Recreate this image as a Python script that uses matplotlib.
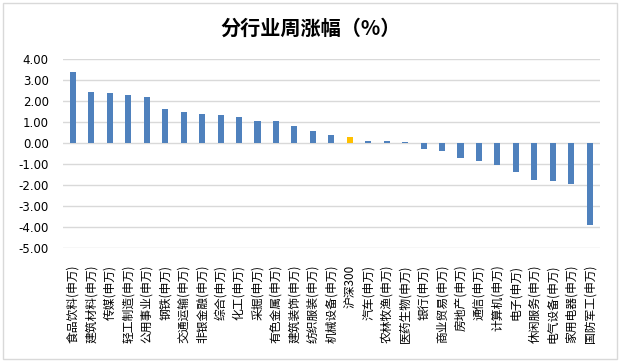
import matplotlib
matplotlib.use('Agg')
import matplotlib.pyplot as plt
from matplotlib.patches import Rectangle

plt.rcParams['font.family'] = ['Noto Sans CJK SC', 'DejaVu Sans']

industries = ['食品饮料(申万)', '建筑材料(申万)', '传媒(申万)', '轻工制造(申万)', '公用事业(申万)',
              '钢铁(申万)', '交通运输(申万)', '非银金融(申万)', '综合(申万)', '化工(申万)',
              '采掘(申万)', '有色金属(申万)', '建筑装饰(申万)', '纺织服装(申万)', '机械设备(申万)',
              '沪深300', '汽车(申万)', '农林牧渔(申万)', '医药生物(申万)', '银行(申万)',
              '商业贸易(申万)', '房地产(申万)', '通信(申万)', '计算机(申万)', '电子(申万)',
              '休闲服务(申万)', '电气设备(申万)', '家用电器(申万)', '国防军工(申万)']
weekly_change = [3.40, 2.44, 2.40, 2.30, 2.21, 1.63, 1.49, 1.40, 1.35, 1.25,
                 1.06, 1.06, 0.83, 0.58, 0.40, 0.30, 0.11, 0.11, 0.06, -0.27,
                 -0.37, -0.70, -0.84, -1.03, -1.37, -1.75, -1.79, -1.94, -3.89]
highlight = '沪深300'

blue = '#4F81BD'
yellow = '#FFC000'
colors = [yellow if name == highlight else blue for name in industries]

fig = plt.figure(figsize=(6.21, 3.62), dpi=100)
fig.patches.append(Rectangle((0.005, 0.008), 0.988, 0.985, transform=fig.transFigure,
                             fill=False, edgecolor='#D9D9D9', linewidth=1.0))

ax = fig.add_axes([0.101, 0.315, 0.865, 0.522])
x = list(range(len(industries)))
ax.bar(x, weekly_change, width=0.33, color=colors, zorder=3)

ax.set_ylim(-5, 4)
ax.set_yticks(range(-5, 5))
ax.set_yticklabels(['%.2f' % v for v in range(-5, 5)], fontsize=8.5, family='DejaVu Sans')
ax.set_xlim(-0.55, len(industries) - 0.45)
ax.set_xticks(x)
ax.set_xticklabels(industries, rotation=90, fontsize=8.5, va='top')
ax.tick_params(axis='x', length=0, pad=12)
ax.tick_params(axis='y', length=0, pad=10)
ax.grid(axis='y', color='#D9D9D9', linewidth=1.0, zorder=0)
for s in ax.spines.values():
    s.set_visible(False)

fig.text(0.5, 0.922, '分行业周涨幅（%）', ha='center', va='center', fontsize=14.5, fontweight='bold')

fig.savefig('out.png', dpi=100)
